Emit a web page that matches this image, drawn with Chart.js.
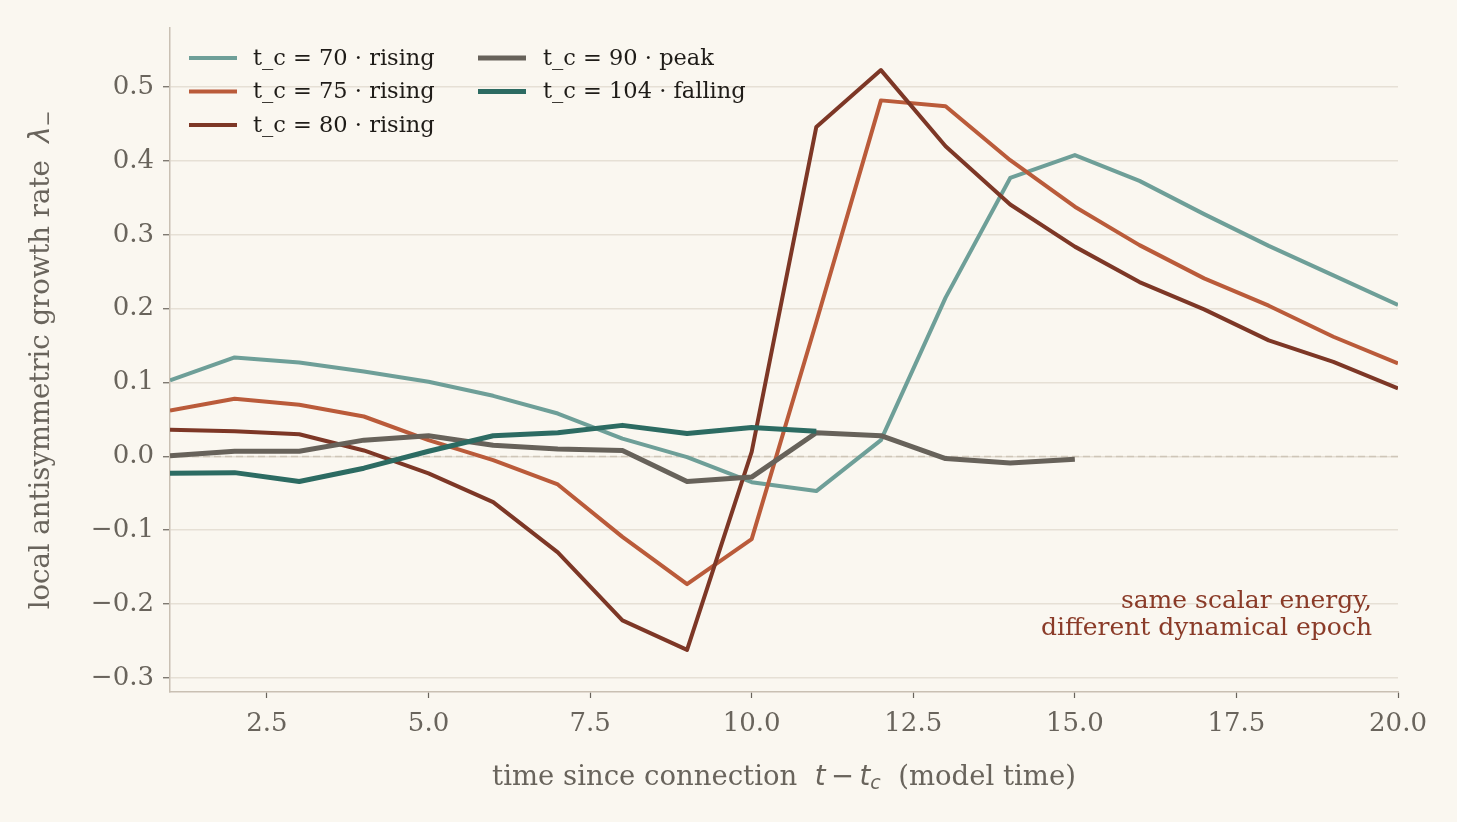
<!DOCTYPE html>
<html lang="en">
<head>
  <meta charset="UTF-8">
  <title>Local antisymmetric growth rate</title>
  <script src="https://cdn.jsdelivr.net/npm/chart.js"></script>
  <style>
    html, body { margin: 0; padding: 0; background: #faf7f0; }
    .wrap { width: 1457px; height: 822px; position: relative; }
  </style>
</head>
<body>
  <div class="wrap"><canvas id="growthChart"></canvas></div>

  <script>
    // time since connection (model time)
    const timeSteps = [1, 2, 3, 4, 5, 6, 7, 8, 9, 10, 11, 12, 13, 14, 15, 16, 17, 18, 19, 20];

    // local antisymmetric growth rate for each connection time
    const lam70  = [0.103, 0.134, 0.127, 0.115, 0.101, 0.082, 0.058, 0.024, -0.001, -0.035,
                    -0.047, 0.022, 0.215, 0.377, 0.408, 0.373, 0.328, 0.285, 0.245, 0.205];
    const lam75  = [0.062, 0.078, 0.070, 0.054, 0.022, -0.005, -0.038, -0.109, -0.173, -0.112,
                    0.182, 0.482, 0.474, 0.401, 0.338, 0.286, 0.241, 0.204, 0.162, 0.126];
    const lam80  = [0.036, 0.034, 0.030, 0.008, -0.023, -0.062, -0.130, -0.222, -0.262, 0.006,
                    0.446, 0.523, 0.420, 0.341, 0.284, 0.236, 0.199, 0.157, 0.128, 0.092];
    const lam90  = [0.001, 0.007, 0.007, 0.022, 0.028, 0.015, 0.010, 0.008, -0.034, -0.028,
                    0.032, 0.028, -0.003, -0.009, -0.004];
    const lam104 = [-0.023, -0.022, -0.034, -0.016, 0.007, 0.028, 0.032, 0.042, 0.031, 0.039, 0.034];

    const seriesLabels = ['t_c = 70 · rising', 't_c = 75 · rising', 't_c = 80 · rising',
                          't_c = 90 · peak', 't_c = 104 · falling'];

    const xTicks = [2.5, 5, 7.5, 10, 12.5, 15, 17.5, 20];
    const yTicks = [-0.3, -0.2, -0.1, 0, 0.1, 0.2, 0.3, 0.4, 0.5];

    const noteLines = ['same scalar energy,', 'different dynamical epoch'];

    const serif = "'DejaVu Serif', serif";
    const sans = "'DejaVu Sans', sans-serif";
    const inkGrey = '#69645c';

    const toPoints = (vals) => vals.map((v, i) => ({ x: timeSteps[i], y: v }));

    const fmtNum = (v) => (v < 0 ? '\u2212' : '') + Math.abs(v).toFixed(1);

    // dashed reference line at zero
    const zeroLine = {
      id: 'zeroLine',
      beforeDatasetsDraw(chart) {
        const { ctx, chartArea } = chart;
        const y = chart.scales.y.getPixelForValue(0);
        ctx.save();
        ctx.strokeStyle = '#cfc6b8';
        ctx.lineWidth = 1.5;
        ctx.setLineDash([7, 4]);
        ctx.beginPath();
        ctx.moveTo(chartArea.left, y);
        ctx.lineTo(chartArea.right, y);
        ctx.stroke();
        ctx.restore();
      }
    };

    // draws a run of text pieces (font / offset per piece), centred on cx
    function drawRuns(ctx, runs, cx, cy) {
      let total = 0;
      runs.forEach(r => { ctx.font = r.font; r.w = ctx.measureText(r.text).width; total += r.w; });
      let x = cx - total / 2;
      runs.forEach(r => {
        ctx.font = r.font;
        ctx.fillText(r.text, x, cy + (r.dy || 0));
        x += r.w;
      });
    }

    // axis titles, legend in two columns, side note
    const decorations = {
      id: 'decorations',
      afterDraw(chart) {
        const { ctx, chartArea } = chart;
        ctx.save();
        ctx.fillStyle = inkGrey;
        ctx.textBaseline = 'middle';
        ctx.textAlign = 'left';

        const cx = (chartArea.left + chartArea.right) / 2;
        drawRuns(ctx, [
          { text: 'time since connection  ', font: `27.5px ${serif}` },
          { text: 't', font: `italic 27.5px ${sans}` },
          { text: '\u2009\u2212\u2009', font: `27.5px ${sans}` },
          { text: 't', font: `italic 27.5px ${sans}` },
          { text: 'c', font: `italic 19px ${sans}`, dy: 6 },
          { text: '  (model time)', font: `27.5px ${serif}` }
        ], cx, 778);

        ctx.save();
        ctx.translate(42, (chartArea.top + chartArea.bottom) / 2);
        ctx.rotate(-Math.PI / 2);
        drawRuns(ctx, [
          { text: 'local antisymmetric growth rate  ', font: `27.5px ${serif}` },
          { text: '\u03bb', font: `italic 27.5px ${sans}` },
          { text: '\u2212', font: `19px ${sans}`, dy: 7 }
        ], 0, 0);
        ctx.restore();

        // legend
        const cols = [{ lx: 189, tx: 253 }, { lx: 478, tx: 543 }];
        const rows = [58, 91.5, 125];
        chart.data.datasets.forEach((ds, i) => {
          const col = cols[i < 3 ? 0 : 1];
          const y = rows[i < 3 ? i : i - 3];
          ctx.strokeStyle = ds.borderColor;
          ctx.lineWidth = ds.borderWidth;
          ctx.beginPath();
          ctx.moveTo(col.lx, y);
          ctx.lineTo(col.lx + 48, y);
          ctx.stroke();
          ctx.fillStyle = '#1f1c18';
          ctx.font = `22.5px ${serif}`;
          ctx.fillText(ds.label, col.tx, y + 1);
        });

        // note
        ctx.fillStyle = '#8a3b28';
        ctx.textAlign = 'right';
        ctx.font = `25px ${serif}`;
        noteLines.forEach((t, i) => ctx.fillText(t, 1372, 601 + i * 27));
        ctx.restore();
      }
    };

    const ctx = document.getElementById('growthChart').getContext('2d');

    new Chart(ctx, {
      type: 'line',
      data: {
        datasets: [
          { label: seriesLabels[0], data: toPoints(lam70),  borderColor: '#6e9f98', borderWidth: 4, order: 5 },
          { label: seriesLabels[1], data: toPoints(lam75),  borderColor: '#ba5b3a', borderWidth: 4, order: 4 },
          { label: seriesLabels[2], data: toPoints(lam80),  borderColor: '#7d3726', borderWidth: 4, order: 3 },
          { label: seriesLabels[3], data: toPoints(lam90),  borderColor: '#67625a', borderWidth: 5, order: 2 },
          { label: seriesLabels[4], data: toPoints(lam104), borderColor: '#2c6b62', borderWidth: 5, order: 1 }
        ]
      },
      options: {
        responsive: true,
        maintainAspectRatio: false,
        animation: false,
        layout: { padding: { top: 28, right: 59, left: 0, bottom: 0 } },
        elements: {
          point: { radius: 0 },
          line: { tension: 0, fill: false, borderJoinStyle: 'round', borderCapStyle: 'butt' }
        },
        plugins: {
          legend: { display: false },
          tooltip: { enabled: false }
        },
        scales: {
          x: {
            type: 'linear',
            min: 1,
            max: 20,
            afterBuildTicks: (scale) => { scale.ticks = xTicks.map(v => ({ value: v })); },
            afterFit: (scale) => { scale.height = 130; },
            grid: { drawOnChartArea: false, drawTicks: true, tickLength: 6, tickColor: inkGrey, tickWidth: 1.2 },
            border: { color: '#c9c0b3', width: 1.5 },
            ticks: {
              color: inkGrey,
              font: { family: serif, size: 26 },
              padding: 11,
              maxRotation: 0,
              callback: (v) => Number(v).toFixed(1)
            }
          },
          y: {
            type: 'linear',
            min: -0.319,
            max: 0.58,
            afterBuildTicks: (scale) => { scale.ticks = yTicks.map(v => ({ value: v })); },
            afterFit: (scale) => { scale.width = 170; },
            grid: { color: '#e6e0d5', lineWidth: 1.5, drawTicks: true, tickLength: 7, tickColor: inkGrey, tickWidth: 1.2 },
            border: { color: '#c9c0b3', width: 1.5 },
            ticks: {
              color: inkGrey,
              font: { family: serif, size: 26 },
              padding: 9,
              callback: (v) => fmtNum(v)
            }
          }
        }
      },
      plugins: [zeroLine, decorations]
    });
  </script>
</body>
</html>
